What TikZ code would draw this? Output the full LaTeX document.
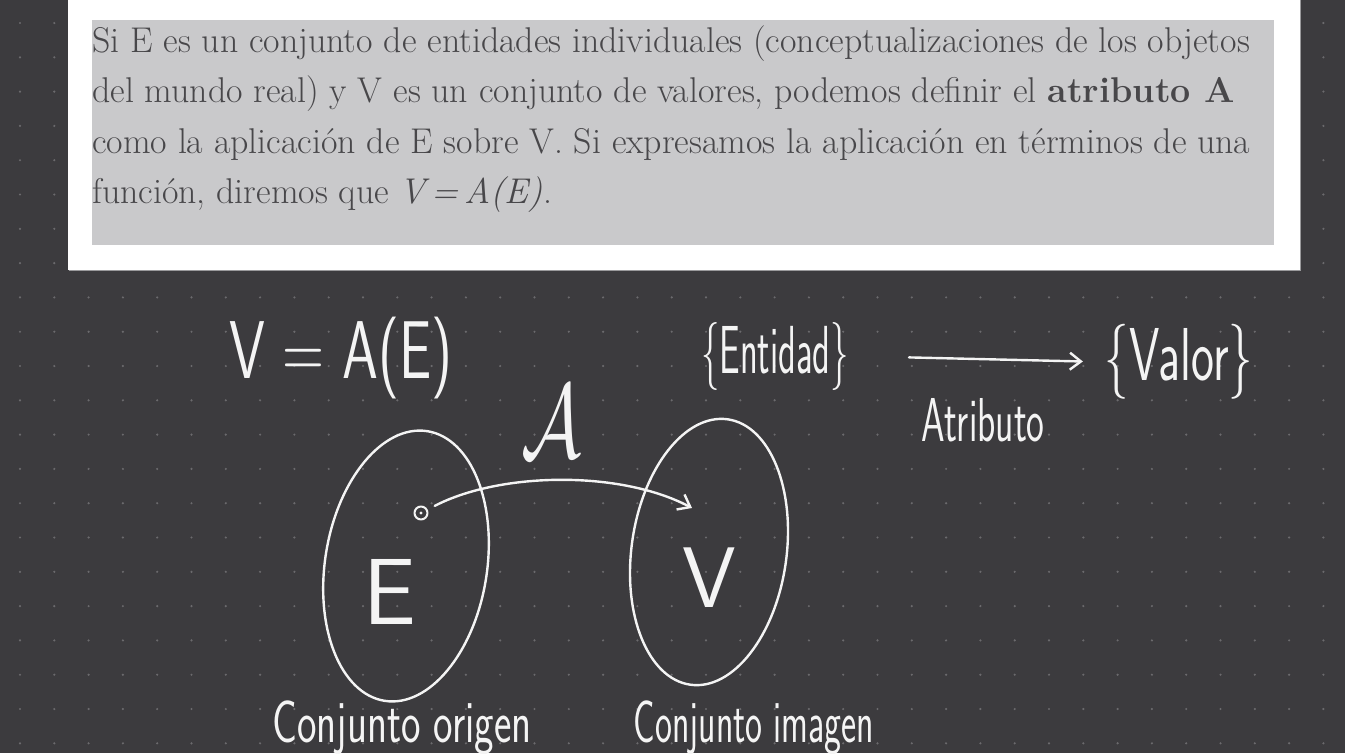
\documentclass[tikz,border=0pt]{standalone}
\usepackage{fontspec}
\usetikzlibrary{shapes.geometric,arrows.meta}
\definecolor{bg}{HTML}{3C3B3E}
\definecolor{dotc}{HTML}{6B6A6D}
\definecolor{panel}{HTML}{C9C9CB}
\definecolor{ink}{HTML}{48474A}
\definecolor{chalk}{HTML}{F4F4F4}
\definecolor{shadowc}{HTML}{9A9A9C}
\begin{document}
\begin{tikzpicture}[x=1pt,y=-1pt,
  bookline/.style={anchor=base west, inner sep=0pt, text=ink, font=\fontsize{35.8}{44}\selectfont},
  hw/.style={text=chalk, inner sep=0pt, font=\sffamily\fontsize{#1}{#1}\selectfont},
  chalkline/.style={draw=chalk, line width=2.4pt, line cap=round, line join=round},
  setshape/.style={ellipse, chalkline, inner sep=0pt},
  barb/.style={-{Straight Barb[length=11pt,width=17pt,line width=2.4pt]}}
]
\useasboundingbox (0,0) rectangle (1345,753);
\fill[bg] (0,0) rectangle (1345,753);
\foreach \i in {0,...,38} \foreach \j in {0,...,21}
  \fill[dotc] (20+34.3*\i, 23+34.3*\j) circle (1.2);
% book excerpt
\fill[shadowc] (69,0) rectangle (1301,271);
\fill[white] (68,0) rectangle (1300,270);
\fill[panel] (92,20) rectangle (1274,245);
\node[bookline] (l1) at (92,52) {Si E es un conjunto de entidades individuales (conceptualizaciones de los objetos};
\node[bookline] (l2) at (92,102) {del mundo real) y V es un conjunto de valores, podemos definir el \textbf{atributo A}};
\node[bookline] (l3) at (92,153) {como la aplicación de E sobre V. Si expresamos la aplicación en términos de una};
\node[bookline] (l4) at (92,203) {función, diremos que \textit{V\,=\,A(E)}.};
% handwriting
\node[hw=82, xscale=0.7] (eq) at (341,358) {V = A(E)};
\node[hw=68, xscale=0.54] (ent) at (775,356) {\{Entidad\}};
\node[hw=75, xscale=0.65] (val) at (1179,362) {\{Valor\}};
\node[hw=62, xscale=0.61] (atr) at (983,420) {Atributo};
\draw[chalkline, barb, shorten <=60pt, shorten >=22pt] (ent.east) -- (val.west);
\node[text=chalk, inner sep=0pt] (scA) at (551,422) {\scalebox{7.5}[10.5]{$\mathcal{A}$}};
% sets
\node[setshape, minimum width=162pt, minimum height=273pt, rotate=-9] (setE) at (406,566) {};
\node[setshape, minimum width=155pt, minimum height=268pt, rotate=-8] (setV) at (709,552) {};
\node[hw=94] (lblE) at (390,592) {E};
\node[hw=86] (lblV) at (709,578) {V};
\node[circle, chalkline, line width=2pt, minimum size=13pt, inner sep=0pt] (dotE) at (421,513) {};
\fill[chalk] (dotE.center) circle (1.6);
\coordinate (vtip) at (692,508);
\draw[chalkline, barb, shorten <=8pt] (dotE) .. controls (500,472) and (620,470) .. (vtip);
\node[hw=60, xscale=0.69, anchor=base] (orig) at (402,742) {Conjunto origen};
\node[hw=60, xscale=0.6, anchor=base] (imag) at (754,742) {Conjunto imagen};
\end{tikzpicture}
\end{document}
